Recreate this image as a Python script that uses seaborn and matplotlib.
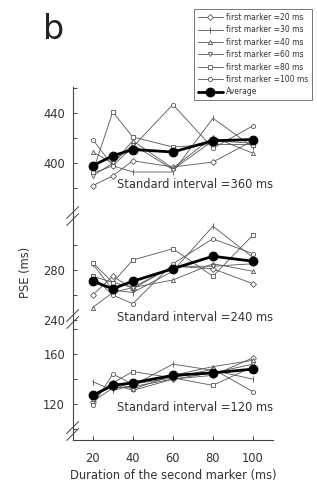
import numpy as np
import pandas as pd
import matplotlib
matplotlib.use("Agg")
import matplotlib.pyplot as plt
from matplotlib.lines import Line2D
import seaborn as sns

# duration of the second marker (ms)
second = [20, 30, 40, 60, 80, 100]
first_labels = ["first marker =20 ms", "first marker =30 ms", "first marker =40 ms",
                "first marker =60 ms", "first marker =80 ms", "first marker =100 ms"]
first_markers = ["D", "|", "^", "v", "s", "o"]

# standard interval = 360 ms
pse_360 = [
    [382, 390, 402, 397, 401, 418],
    [392, 398, 393, 393, 436, 413],
    [409, 400, 418, 396, 421, 408],
    [390, 400, 415, 395, 418, 416],
    [393, 441, 421, 413, 415, 415],
    [419, 398, 413, 447, 412, 430],
]
avg_360 = [398, 406, 411, 409, 418, 419]

# standard interval = 240 ms
pse_240 = [
    [260, 275, 265, 283, 281, 269],
    [285, 264, 262, 279, 315, 290],
    [250, 262, 266, 272, 285, 279],
    [275, 270, 266, 283, 283, 285],
    [286, 270, 288, 297, 275, 308],
    [275, 260, 253, 285, 305, 293],
]
avg_240 = [271, 265, 271, 281, 291, 287]

# standard interval = 120 ms
pse_120 = [
    [122, 133, 134, 140, 143, 157],
    [138, 131, 135, 152, 147, 140],
    [124, 138, 132, 143, 150, 155],
    [127, 136, 131, 140, 145, 152],
    [126, 137, 146, 141, 135, 150],
    [119, 144, 136, 141, 148, 130],
]
avg_120 = [127, 135, 137, 143, 145, 148]

sns.set_style("ticks")
plt.rcParams["font.family"] = ["DejaVu Sans"]
txt_col = "#333333"
line_col = "#555555"

W, H = 317, 484
fig = plt.figure(figsize=(W / 100, H / 100), dpi=100)

left = 72.7 / W
width = 200.3 / W
# (top px, bottom px, ylim, major ticks, minor ticks, series, average, text, text y)
panels = [
    (87, 216, (357.8, 461), [400, 440], [380, 420, 460], pse_360, avg_360,
     "Standard interval =360 ms", 383),
    (216, 322, (238.4, 323.2), [240, 280], [260, 300], pse_240, avg_240,
     "Standard interval =240 ms", 242),
    (322, 440, (91.4, 185.6), [120, 160], [100, 140, 180], pse_120, avg_120,
     "Standard interval =120 ms", 117),
]

axes = []
for i, (ptop, pbot, ylim, major, minor, series, avg, label, ty) in enumerate(panels):
    ax = fig.add_axes([left, 1 - pbot / H, width, (pbot - ptop) / H])
    for vals, lab, mk in zip(series, first_labels, first_markers):
        df = pd.DataFrame({"second": second, "pse": vals})
        sns.lineplot(data=df, x="second", y="pse", ax=ax, color=line_col, lw=0.6,
                     marker=mk, markersize=3.0 if mk != "|" else 4.0,
                     markerfacecolor="white", markeredgecolor=line_col,
                     markeredgewidth=0.6, label=lab, legend=False)
    dfa = pd.DataFrame({"second": second, "pse": avg})
    sns.lineplot(data=dfa, x="second", y="pse", ax=ax, color="black", lw=2.0,
                 marker="o", markersize=6.3, markerfacecolor="black",
                 markeredgecolor="black", label="Average", legend=False, zorder=5)
    ax.set_xlim(10, 110)
    ax.set_ylim(*ylim)
    ax.set_yticks(major)
    ax.set_yticks(minor, minor=True)
    ax.set_ylabel("")
    ax.set_xlabel("")
    ax.patch.set_alpha(0)
    sns.despine(ax=ax, top=True, right=True, bottom=(i < 2))
    for s in ("left", "bottom"):
        ax.spines[s].set_color("#444444")
        ax.spines[s].set_linewidth(0.8)
    ax.tick_params(axis="y", which="both", direction="in", length=3, width=0.7,
                   colors="#444444", labelcolor=txt_col, labelsize=8.3, pad=5.5)
    if i < 2:
        ax.tick_params(axis="x", which="both", bottom=False, labelbottom=False)
    else:
        ax.set_xticks([20, 40, 60, 80, 100])
        ax.tick_params(axis="x", direction="in", length=3, width=0.7,
                       colors="#444444", labelcolor=txt_col, labelsize=8.3, pad=9)
        ax.set_xlabel("Duration of the second marker (ms)", fontsize=8.3,
                      color=txt_col, labelpad=2.5)
    ax.text(71, ty, label, ha="center", va="center", fontsize=8.3, color=txt_col,
            clip_on=False)
    axes.append(ax)

# axis break marks
for yc in (216, 319, 431):
    for off in (-3.5, 3.5):
        x0, x1 = (72.7 - 6) / W, (72.7 + 6) / W
        y0, y1 = 1 - (yc + off + 6) / H, 1 - (yc + off - 6) / H
        fig.add_artist(Line2D([x0, x1], [y0, y1], color="#444444", lw=0.7))

fig.text(25 / W, 1 - 272.7 / H, "PSE (ms)", rotation=90, ha="center", va="center",
         fontsize=8.3, color=txt_col)
fig.text(43 / W, 1 - 39 / H, "b", fontsize=24, color="#222222", va="baseline")

handles, labels = axes[0].get_legend_handles_labels()
leg = fig.legend(handles, labels, loc="upper right",
                 bbox_to_anchor=(312 / W, 1 - 9 / H), fontsize=5.5,
                 frameon=True, fancybox=False, edgecolor="#555555",
                 handlelength=3.3, handletextpad=0.4, borderpad=0.5,
                 labelspacing=0.45, borderaxespad=0)
leg.get_frame().set_linewidth(0.7)
for t in leg.get_texts():
    t.set_color(txt_col)

fig.savefig("out.png", dpi=100)
